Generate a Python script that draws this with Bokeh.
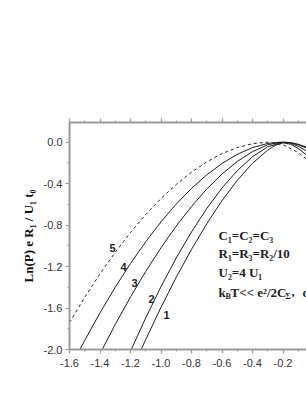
from bokeh.plotting import figure
from bokeh.models import LinearAxis, FixedTicker, PrintfTickFormatter, Label
from bokeh.core.properties import value
from bokeh.embed import file_html
from bokeh.resources import INLINE

# ---- data ----
c5_x = [-1.6, -1.5, -1.4, -1.3, -1.2, -1.1, -1.0, -0.9, -0.8, -0.7, -0.6, -0.5, -0.4, -0.3, -0.2, -0.1, -0.04]
c5_y = [-1.74, -1.496, -1.27, -1.062, -0.871, -0.698, -0.543, -0.407, -0.289, -0.19, -0.11, -0.052, -0.014, 0.0, -0.025, -0.10, -0.17]

c4_x = [-1.55, -1.5, -1.4, -1.3, -1.2, -1.1, -1.0, -0.9, -0.8, -0.7, -0.6, -0.5, -0.4, -0.3, -0.22, -0.15, -0.1, -0.04]
c4_y = [-2.052, -1.912, -1.646, -1.399, -1.17, -0.96, -0.768, -0.597, -0.446, -0.315, -0.205, -0.117, -0.052, -0.012, 0.0, -0.02, -0.06, -0.13]

c3_x = [-1.42, -1.4, -1.3, -1.2, -1.1, -1.0, -0.9, -0.8, -0.7, -0.6, -0.5, -0.4, -0.3, -0.21, -0.15, -0.1, -0.04]
c3_y = [-2.10, -2.041, -1.758, -1.493, -1.246, -1.018, -0.809, -0.62, -0.452, -0.307, -0.186, -0.091, -0.025, 0.0, -0.01, -0.04, -0.09]

c2_x = [-1.22, -1.2, -1.1, -1.0, -0.9, -0.8, -0.7, -0.6, -0.5, -0.4, -0.3, -0.2, -0.15, -0.1, -0.04]
c2_y = [-2.084, -2.017, -1.694, -1.394, -1.117, -0.866, -0.64, -0.442, -0.275, -0.14, -0.045, 0.0, -0.005, -0.025, -0.06]

c1_x = [-1.15, -1.1, -1.0, -0.9, -0.8, -0.7, -0.6, -0.5, -0.4, -0.3, -0.25, -0.19, -0.15, -0.1, -0.04]
c1_y = [-2.065, -1.903, -1.593, -1.303, -1.034, -0.787, -0.564, -0.368, -0.203, -0.076, -0.03, 0.0, -0.004, -0.02, -0.05]

curve_labels = ["1", "2", "3", "4", "5"]
curve_label_x = [-0.964, -1.062, -1.174, -1.246, -1.318]
curve_label_y = [-1.671, -1.517, -1.362, -1.208, -1.025]

x_major = [-1.6, -1.4, -1.2, -1.0, -0.8, -0.6, -0.4, -0.2, 0.0]
x_minor = [-1.5, -1.3, -1.1, -0.9, -0.7, -0.5, -0.3, -0.1]
y_major = [0.0, -0.4, -0.8, -1.2, -1.6, -2.0]
y_minor = [0.2, -0.2, -0.6, -1.0, -1.4, -1.8]

AX = "#9a9a9a"
INK = "#1e1e1e"
SERIF = "Liberation Serif"
SANS = "Liberation Sans"

p = figure(width=306, height=396, x_range=(-1.6, -0.046), y_range=(-2.0, 0.19),
           output_backend="svg", toolbar_location=None, x_axis_location=None, y_axis_location=None,
           min_border_left=69, min_border_right=0, min_border_top=122, min_border_bottom=47)
p.outline_line_color = None
p.xgrid.visible = False
p.ygrid.visible = False
p.background_fill_color = "white"
p.border_fill_color = "white"

def style_axis(ax, labels=True):
    ax.axis_line_color = AX
    ax.axis_line_width = 2
    ax.major_tick_line_color = AX
    ax.minor_tick_line_color = AX
    ax.major_tick_line_width = 1.2
    ax.minor_tick_line_width = 1.2
    ax.major_tick_in = 0
    ax.major_tick_out = 4
    ax.minor_tick_in = 0
    ax.minor_tick_out = 2
    ax.major_label_text_font = SANS
    ax.major_label_text_font_size = "11px"
    ax.major_label_text_color = "#333333" if labels else None
    ax.formatter = PrintfTickFormatter(format="%.1f")

xb = LinearAxis(ticker=FixedTicker(ticks=x_major, minor_ticks=x_minor))
style_axis(xb)
xb.major_label_standoff = 5
p.add_layout(xb, "below")

xt = LinearAxis(ticker=FixedTicker(ticks=x_major, minor_ticks=x_minor))
style_axis(xt, labels=False)
p.add_layout(xt, "above")

yl = LinearAxis(ticker=FixedTicker(ticks=y_major, minor_ticks=y_minor))
style_axis(yl)
yl.major_label_standoff = 3
yl.axis_label = "Ln(P) e R\u2081 / U\u2081 t\u2080"
yl.axis_label_text_font = SERIF
yl.axis_label_text_font_style = "bold"
yl.axis_label_text_font_size = "13px"
yl.axis_label_text_color = "#111111"
yl.axis_label_standoff = 5
p.add_layout(yl, "left")

# curves
p.line(c5_x, c5_y, line_color=INK, line_width=1, line_dash="3 3")
for xs, ys in [(c4_x, c4_y), (c3_x, c3_y), (c2_x, c2_y), (c1_x, c1_y)]:
    p.line(xs, ys, line_color=INK, line_width=1)

p.text(x=curve_label_x, y=curve_label_y, text=curve_labels, text_font=value(SANS),
       text_font_style="bold", text_font_size="11px", text_color=INK,
       text_align="center", text_baseline="middle")

# annotation block (clipped by the frame at the right edge)
ann_x = -0.623
p.text(x=[ann_x] * 3, y=[-0.899, -1.072, -1.256],
       text=["C\u2081=C\u2082=C\u2083", "R\u2081=R\u2083=R\u2082/10", "U\u2082=4 U\u2081"],
       text_font=value(SERIF), text_font_style="bold", text_font_size="13px",
       text_color=INK, text_align="left", text_baseline="middle")
base = -1.449
sub = base - 0.035
p.text(x=[ann_x] * 6, y=[base, sub, base, sub, base, base],
       text=["k", "B", "T<< e\u00b2/2C", "\u03a3", ",", "c"],
       x_offset=[0, 7, 12, 67, 73, 84],
       text_font=value(SERIF), text_font_style="bold",
       text_font_size=["13px", "8px", "13px", "8px", "13px", "13px"],
       text_color=INK, text_align="left", text_baseline="middle")

# x axis title, centred where the reference places it
p.add_layout(Label(x=-0.692, y=-2.27, text="I\u2081 R\u2081 / U\u2081", text_align="center",
                   text_baseline="middle", text_font=SERIF, text_font_style="bold",
                   text_font_size="13px", text_color="#111111"))

open("out.html", "w").write(file_html(p, INLINE))
